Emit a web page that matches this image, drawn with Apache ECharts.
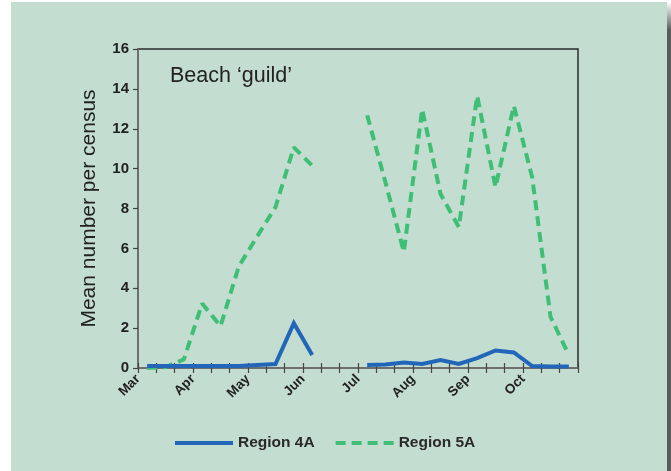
<!DOCTYPE html>
<html>
<head>
<meta charset="utf-8">
<script src="https://cdn.jsdelivr.net/npm/echarts@6/dist/echarts.min.js"></script>
<style>
html,body{margin:0;padding:0;background:#fff;}
#chart{width:671px;height:471px;}
</style>
</head>
<body>
<div id="chart"></div>
<script>
// Month labels (each month spans 3 census periods)
const months = ['Mar', 'Apr', 'May', 'Jun', 'Jul', 'Aug', 'Sep', 'Oct'];
const periodsPerMonth = 3;
// Mean number per census, one value per ~10-day period (null = no census)
const region4A = [0.1, 0.1, 0.1, 0.1, 0.1, 0.1, 0.15, 0.2, 2.25, 0.65, null, null,
                  0.15, 0.18, 0.28, 0.2, 0.4, 0.2, 0.5, 0.88, 0.78, 0.1, 0.08, 0.08];
const region5A = [0.0, 0.05, 0.43, 3.23, 2.1, 5.1, 6.6, 8.07, 11.07, 10.15, null, null,
                  12.68, 9.3, 5.82, 12.98, 8.73, 7.07, 13.65, 9.07, 13.15, 9.57, 2.57, 0.65];
const yTicks = [0, 2, 4, 6, 8, 10, 12, 14, 16];

const nPeriods = months.length * periodsPerMonth;
const toPairs = arr => arr.map((v, i) => [i + 0.5, v]);

const chart = echarts.init(document.getElementById('chart'), null, {renderer: 'canvas'});
const FONT = '"Liberation Sans", Arial, sans-serif';
const axisGray = '#6f6f6f';

chart.setOption({
  backgroundColor: '#ffffff',
  animation: false,
  graphic: [
    {type: 'rect', z: -10, silent: true, shape: {x: 11, y: 2, width: 656, height: 469}, style: {fill: '#c4ddd1'}},
    {type: 'rect', z: -10, silent: true, shape: {x: 667, y: 2, width: 4, height: 469},
     style: {fill: new echarts.graphic.LinearGradient(0, 0, 0, 1, [
       {offset: 0, color: '#ffffff'}, {offset: 0.06, color: '#5a5a5a'}, {offset: 1, color: '#5a5a5a'}])}}
  ],
  title: {
    text: 'Beach \u2018guild\u2019',
    left: 170, top: 65, padding: 0,
    textStyle: {fontFamily: FONT, fontSize: 21.5, fontWeight: 'normal', color: '#222'}
  },
  legend: {
    left: 173, top: 435, padding: 0,
    itemWidth: 58, itemHeight: 14, itemGap: 19,
    itemStyle: {opacity: 0},
    lineStyle: {width: 4},
    textStyle: {fontFamily: FONT, fontSize: 15.5, fontWeight: 'bold', color: '#2a2a2a'},
    data: ['Region 4A', 'Region 5A']
  },
  grid: {
    left: 138, right: 93, top: 49, bottom: 103,
    show: true, borderColor: '#2a2a2a', borderWidth: 1.5, backgroundColor: 'transparent'
  },
  xAxis: [
    {
      type: 'value', min: 0, max: nPeriods, interval: 1, position: 'bottom',
      splitLine: {show: false},
      axisLine: {show: true, lineStyle: {color: axisGray, width: 2}},
      axisTick: {show: true, length: 5, lineStyle: {color: '#444', width: 1.2}},
      axisLabel: {
        rotate: 45, margin: 9, fontFamily: FONT, fontSize: 13.5, fontWeight: 'bold', color: '#222',
        formatter: v => (v % periodsPerMonth === 0 && v / periodsPerMonth < months.length) ? months[v / periodsPerMonth] : ''
      }
    },
    {
      type: 'value', min: 0, max: nPeriods, interval: 1, position: 'bottom', offset: 0,
      splitLine: {show: false},
      axisLine: {show: false},
      axisTick: {show: true, inside: true, length: 5, lineStyle: {color: '#444', width: 1.2}},
      axisLabel: {show: false}
    }
  ],
  yAxis: {
    type: 'value', min: yTicks[0], max: yTicks[yTicks.length - 1], interval: 2,
    name: 'Mean number per census', nameLocation: 'middle', nameGap: 38,
    nameTextStyle: {fontFamily: FONT, fontSize: 21, color: '#222'},
    splitLine: {show: false},
    axisLine: {show: true, lineStyle: {color: axisGray, width: 2}},
    axisTick: {show: true, length: 5, lineStyle: {color: '#444', width: 1.2}},
    axisLabel: {fontFamily: FONT, fontSize: 15, fontWeight: 'bold', color: '#222', margin: 9}
  },
  series: [
    {
      name: 'Region 4A', type: 'line', data: toPairs(region4A), xAxisIndex: 0,
      symbol: 'none', connectNulls: false, z: 3,
      itemStyle: {color: '#2166b8'},
      lineStyle: {color: '#2166b8', width: 4, cap: 'butt', join: 'miter'}
    },
    {
      name: 'Region 5A', type: 'line', data: toPairs(region5A), xAxisIndex: 0,
      symbol: 'none', connectNulls: false, z: 2,
      itemStyle: {color: '#3fbe76'},
      lineStyle: {color: '#3fbe76', width: 4, type: [10, 6], cap: 'butt'}
    }
  ]
});
</script>
</body>
</html>
